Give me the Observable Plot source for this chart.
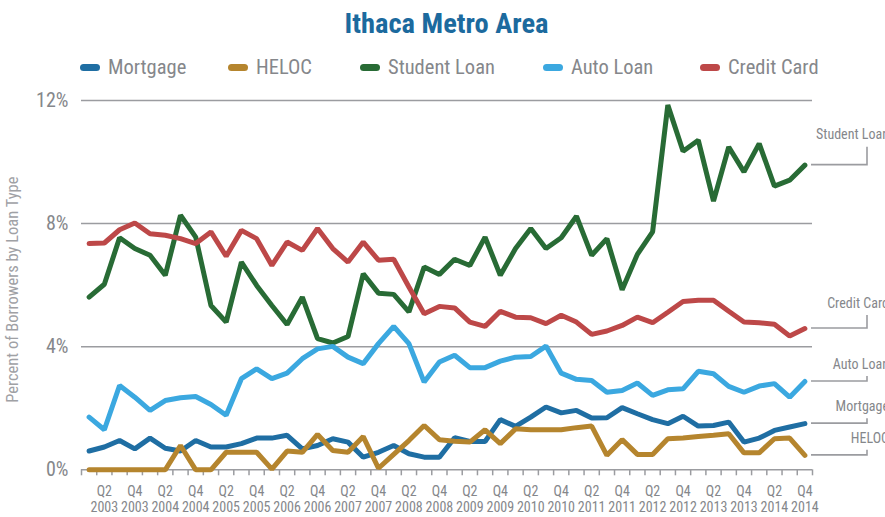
<!DOCTYPE html>
<html>
<head>
<meta charset="utf-8">
<script src="https://cdn.jsdelivr.net/npm/d3@7"></script>
<script src="https://cdn.jsdelivr.net/npm/@observablehq/plot@0.6"></script>
<style>
  body { margin: 0; background: #fff; }
  #wrap { width: 885px; height: 517px; position: relative; overflow: hidden;
          font-family: "Roboto Condensed", "Liberation Sans Narrow", "Arial Narrow", Roboto, sans-serif; }
  #title { position: absolute; top: 2px; left: 4px; width: 885px; height: 44px; line-height: 44px;
           text-align: center; font-weight: bold; font-size: 28.5px; color: #1c6a9e; }
  #legend { position: absolute; top: 52px; left: 0; width: 885px; height: 30px;
            font-size: 20.5px; color: #85878b; }
  .item { position: absolute; top: 0; height: 30px; display: flex; align-items: center; white-space: nowrap; }
  .sw { width: 20px; height: 7px; border-radius: 4px; margin-right: 8px; }
  #chart { position: absolute; top: 88px; left: 0; }
</style>
</head>
<body>
<div id="wrap">
  <div id="title">Ithaca Metro Area</div>
  <div id="legend"></div>
  <div id="chart"></div>
</div>
<script>
// ---- data ----
const years = [2003, 2004, 2005, 2006, 2007, 2008, 2009, 2010, 2011, 2012, 2013, 2014];
const quarters = ["Q1", "Q2", "Q3", "Q4"];
const seriesNames = ["Mortgage", "HELOC", "Student Loan", "Auto Loan", "Credit Card"];
const seriesColors = ["#1f6ea3", "#b5852e", "#286b35", "#3ba8e0", "#bd4848"];

const mortgage = [0.61, 0.74, 0.95, 0.68, 1.03, 0.70, 0.61, 0.95, 0.74, 0.74, 0.85, 1.03,
                  1.03, 1.12, 0.68, 0.79, 1.01, 0.90, 0.41, 0.57, 0.79, 0.52, 0.41, 0.41,
                  1.04, 0.92, 0.92, 1.63, 1.41, 1.71, 2.04, 1.85, 1.93, 1.68, 1.69, 2.02,
                  1.82, 1.63, 1.50, 1.74, 1.42, 1.44, 1.55, 0.90, 1.03, 1.28, 1.39, 1.50];
const heloc = [0, 0, 0, 0, 0, 0, 0.79, 0, 0, 0.57, 0.57, 0.57,
               0.02, 0.61, 0.57, 1.15, 0.63, 0.57, 1.08, 0.05, 0.50, 0.95, 1.44, 0.98,
               0.93, 0.90, 1.30, 0.85, 1.33, 1.30, 1.30, 1.30, 1.37, 1.42, 0.47, 0.98,
               0.50, 0.50, 1.01, 1.03, 1.08, 1.12, 1.17, 0.55, 0.55, 1.01, 1.03, 0.47];
const studentLoan = [5.61, 6.03, 7.54, 7.19, 6.97, 6.32, 8.27, 7.56, 5.34, 4.80, 6.75, 5.99,
                     5.34, 4.72, 5.61, 4.26, 4.12, 4.33, 6.37, 5.74, 5.70, 5.13, 6.59, 6.35,
                     6.84, 6.64, 7.56, 6.32, 7.19, 7.84, 7.19, 7.54, 8.24, 6.97, 7.51, 5.85,
                     7.00, 7.73, 11.85, 10.35, 10.71, 8.73, 10.49, 9.68, 10.60, 9.22, 9.41, 9.90];
const autoLoan = [1.71, 1.30, 2.74, 2.36, 1.93, 2.25, 2.34, 2.38, 2.12, 1.77, 2.96, 3.28,
                  2.96, 3.14, 3.61, 3.93, 4.01, 3.66, 3.45, 4.10, 4.66, 4.10, 2.85, 3.50,
                  3.72, 3.32, 3.32, 3.53, 3.66, 3.68, 4.02, 3.14, 2.94, 2.90, 2.52, 2.58,
                  2.82, 2.42, 2.60, 2.63, 3.20, 3.12, 2.71, 2.52, 2.72, 2.80, 2.36, 2.87];
const creditCard = [7.35, 7.37, 7.80, 8.02, 7.67, 7.62, 7.51, 7.35, 7.73, 6.94, 7.78, 7.51,
                    6.64, 7.40, 7.13, 7.84, 7.19, 6.75, 7.40, 6.81, 6.84, 5.94, 5.07, 5.31,
                    5.26, 4.80, 4.66, 5.15, 4.96, 4.94, 4.75, 5.02, 4.80, 4.40, 4.51, 4.69,
                    4.96, 4.78, 5.12, 5.47, 5.51, 5.51, 5.15, 4.80, 4.78, 4.73, 4.35, 4.59];
const yTicks = [0, 4, 8, 12];
const yAxisTitle = "Percent of Borrowers by Loan Type";

// ---- derived tables ----
const seriesValues = [mortgage, heloc, studentLoan, autoLoan, creditCard];
const periods = years.flatMap(y => quarters.map(q => ({year: y, q})));
const lastIdx = periods.length - 1;
const labelIdx = periods.map((p, i) => i).filter(i => periods[i].q === "Q2" || periods[i].q === "Q4");
const boundaries = d3.range(-0.5, periods.length, 1);

// layout / styling
const legendLeft = [80, 228, 360, 543, 700];
const leaderRise = {"Mortgage": 5, "HELOC": 5, "Student Loan": 18, "Auto Loan": 5, "Credit Card": 13};

const legend = d3.select("#legend");
seriesNames.forEach((n, k) => {
  const it = legend.append("div").attr("class", "item").style("left", legendLeft[k] + "px");
  it.append("div").attr("class", "sw").style("background", seriesColors[k]);
  it.append("span").text(n);
});

const gray = "#9b9ca0";
const textGray = "#85878b";
const font = '"Roboto Condensed", "Liberation Sans Narrow", "Arial Narrow", Roboto, sans-serif';

const lineMarks = seriesNames.map((n, k) =>
  Plot.line(seriesValues[k].map((v, i) => ({i, v})), {
    x: "i", y: "v", stroke: seriesColors[k], strokeWidth: 5,
    strokeLinejoin: "miter", strokeLinecap: "round"
  })
);

function endLabels(index, scales, values, dims) {
  const g = d3.create("svg:g");
  const right = dims.width - dims.marginRight;
  seriesNames.forEach((n, k) => {
    const yv = scales.y(seriesValues[k][lastIdx]);
    const rise = leaderRise[n];
    g.append("path")
      .attr("d", `M${right - 1},${yv}H${right + 55}V${yv - rise}`)
      .attr("fill", "none").attr("stroke", gray).attr("stroke-width", 1.6);
    g.append("text")
      .attr("x", right + 77).attr("y", yv - rise - 11)
      .attr("text-anchor", "end").attr("dominant-baseline", "middle")
      .attr("font-size", 14).attr("fill", textGray)
      .text(n);
  });
  return g.node();
}

function yTitle(index, scales, values, dims) {
  const cy = (dims.marginTop + dims.height - dims.marginBottom) / 2 + 5;
  return d3.create("svg:text")
    .attr("transform", `translate(14,${cy}) rotate(-90)`)
    .attr("text-anchor", "middle").attr("dominant-baseline", "middle")
    .attr("font-size", 16.5).attr("fill", "#9fa1a5")
    .text(yAxisTitle).node();
}

const chart = Plot.plot({
  width: 885,
  height: 429,
  marginTop: 12,
  marginBottom: 47.7,
  marginLeft: 81,
  marginRight: 73,
  style: {fontFamily: font, overflow: "visible", background: "transparent"},
  x: {type: "linear", domain: [-0.5, periods.length - 0.5]},
  y: {domain: [0, 12]},
  marks: [
    Plot.gridY(yTicks, {stroke: gray, strokeOpacity: 1, strokeWidth: 1.5}),
    Plot.axisY(yTicks, {tickSize: 0, tickPadding: 13, tickFormat: d => d + "%", fontSize: 20, fill: textGray, label: null}),
    Plot.axisX(boundaries, {tickSize: 6, tickFormat: () => "", stroke: gray, strokeWidth: 1.5, label: null}),
    Plot.axisX(labelIdx, {tickSize: 0, tickPadding: 15, fontSize: 14, lineHeight: 1.15, fill: textGray, label: null,
      tickFormat: i => `${periods[i].q}\n${periods[i].year}`}),
    yTitle,
    ...lineMarks,
    endLabels
  ]
});
document.getElementById("chart").appendChild(chart);
</script>
</body>
</html>
